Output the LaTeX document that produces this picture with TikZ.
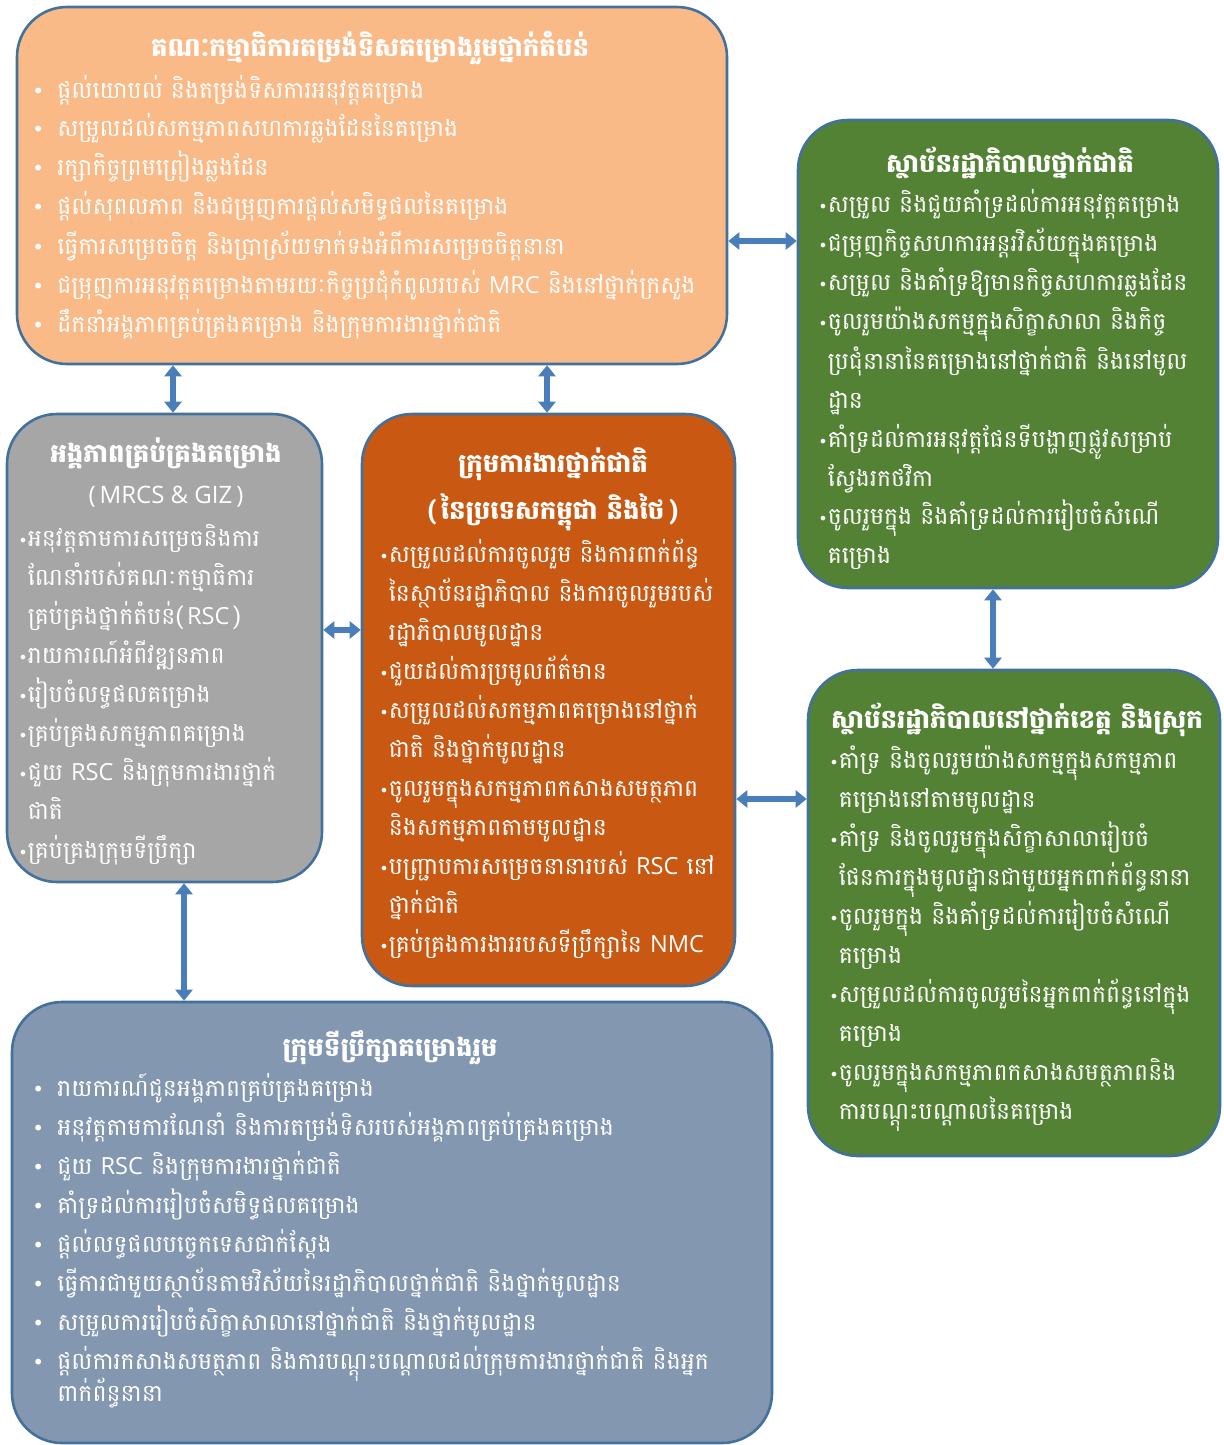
\documentclass[tikz,border=0pt]{standalone}
\usepackage{fontspec}
\setmainfont[Script=Khmer]{Battambang}
\newfontfamily\latinfont{Open Sans}
\newfontfamily\dotfont{DejaVu Sans}
\usetikzlibrary{arrows.meta,positioning,fit,calc}
\definecolor{rscorange}{RGB}{250,186,136}
\definecolor{nwgorange}{RGB}{200,88,18}
\definecolor{govgreen}{RGB}{84,130,53}
\definecolor{pmugrey}{RGB}{166,166,166}
\definecolor{teamblue}{RGB}{132,151,176}
\definecolor{edgeblue}{RGB}{65,113,156}
\definecolor{arrowblue}{RGB}{74,126,187}

\newcommand{\bul}{{\dotfont\fontsize{8}{8}\selectfont •}}
\newcommand{\bigbul}{{\dotfont\fontsize{10}{10}\selectfont •}}
\newcommand{\lat}[1]{{\latinfont #1}}
% one line of a list
\newcommand{\kline}[1]{\hbox{#1}}
\newcommand{\wideitem}[1]{\hbox{\hbox to 12.5pt{\bigbul\hss}#1}}
\newcommand{\wideline}[1]{\hbox{\hskip12.5pt #1}}
\newcommand{\tightitem}[1]{\hbox{\bul#1}}
\newcommand{\tightline}[1]{\hbox{\phantom{\bul}#1}}
\newcommand{\klines}[1]{\vtop{\baselineskip=19.5pt\lineskiplimit=-\maxdimen\lineskip=0pt #1}}

\tikzset{
  box/.style={draw=edgeblue, line width=1.3pt, rounded corners=25pt, inner sep=0pt},
  boxtitle/.style={anchor=base, text=white, font=\fontsize{13}{15}\selectfont\bfseries, inner sep=0pt},
  boxtext/.style={anchor=base west, text=white, font=\fontsize{11.8}{19.5}\selectfont, inner sep=0pt},
  biarrow/.style={draw=arrowblue, line width=2.6pt, {Triangle[width=8.5pt,length=5.5pt]}-{Triangle[width=8.5pt,length=5.5pt]}}
}

\begin{document}
\begin{tikzpicture}[x=0.5pt,y=-0.5pt]
  \useasboundingbox (0,0) rectangle (1223,1445);

  % boxes
  \node[box, fill=rscorange, fit={(17,7)(727,364)}] (rsc) {};
  \node[box, fill=govgreen, fit={(798,120)(1218,588)}] (natgov) {};
  \node[box, fill=pmugrey, fit={(7,414)(322,882)}] (pmu) {};
  \node[box, fill=nwgorange, fit={(362,414)(735,986)}] (nwg) {};
  \node[box, fill=govgreen, fit={(808,670)(1220,1156)}] (locgov) {};
  \node[box, fill=teamblue, fit={(12,1002)(772,1443)}] (team) {};

  % regional steering committee
  \node[boxtitle] (rsctitle) at (370,57) {គណៈកម្មាធិការតម្រង់ទិសគម្រោងរួមថ្នាក់តំបន់};
  \node[boxtext] (rsclist) at (32,98) {\klines{%
    \wideitem{ផ្តល់យោបល់ និងតម្រង់ទិសការអនុវត្តគម្រោង}
    \wideitem{សម្រួលដល់សកម្មភាពសហការឆ្លងដែននៃគម្រោង}
    \wideitem{រក្សាកិច្ចព្រមព្រៀងឆ្លងដែន}
    \wideitem{ផ្តល់សុពលភាព និងជម្រុញការផ្តល់សមិទ្ធផលនៃគម្រោង}
    \wideitem{ធ្វើការសម្រេចចិត្ត និងប្រាស្រ័យទាក់ទងអំពីការសម្រេចចិត្តនានា}
    \wideitem{ជម្រុញការអនុវត្តគម្រោងតាមរយៈកិច្ចប្រជុំកំពូលរបស់ \lat{MRC} និងនៅថ្នាក់ក្រសួង}
    \wideitem{ដឹកនាំអង្គភាពគ្រប់គ្រងគម្រោង និងក្រុមការងារថ្នាក់ជាតិ}}};

  % national government agencies
  \node[boxtitle] (natgovtitle) at (1010,172) {ស្ថាប័នរដ្ឋាភិបាលថ្នាក់ជាតិ};
  \node[boxtext] (natgovlist) at (818,213) {\klines{%
    \tightitem{សម្រួល និងជួយគាំទ្រដល់ការអនុវត្តគម្រោង}
    \tightitem{ជម្រុញកិច្ចសហការអន្តរវិស័យក្នុងគម្រោង}
    \tightitem{សម្រួល និងគាំទ្រឱ្យមានកិច្ចសហការឆ្លងដែន}
    \tightitem{ចូលរួមយ៉ាងសកម្មក្នុងសិក្ខាសាលា និងកិច្ច}
    \tightline{ប្រជុំនានានៃគម្រោងនៅថ្នាក់ជាតិ និងនៅមូល}
    \tightline{ដ្ឋាន}
    \tightitem{គាំទ្រដល់ការអនុវត្តផែនទីបង្ហាញផ្លូវសម្រាប់}
    \tightline{ស្វែងរកថវិកា}
    \tightitem{ចូលរួមក្នុង និងគាំទ្រដល់ការរៀបចំសំណើ}
    \tightline{គម្រោង}}};

  % project management unit
  \node[boxtitle] (pmutitle) at (166,462) {អង្គភាពគ្រប់គ្រងគម្រោង};
  \node[boxtitle, font=\fontsize{12}{14}\selectfont\latinfont] (pmusub) at (166,503) {(\,MRCS \& GIZ\,)};
  \node[boxtext] (pmulist) at (18,546) {\klines{%
    \tightitem{អនុវត្តតាមការសម្រេចនិងការ}
    \tightline{ណែនាំរបស់គណៈកម្មាធិការ}
    \tightline{គ្រប់គ្រងថ្នាក់តំបន់(\,\lat{RSC}\,)}
    \tightitem{រាយការណ៍អំពីវឌ្ឍនភាព}
    \tightitem{រៀបចំលទ្ធផលគម្រោង}
    \tightitem{គ្រប់គ្រងសកម្មភាពគម្រោង}
    \tightitem{ជួយ \lat{RSC} និងក្រុមការងារថ្នាក់}
    \tightline{ជាតិ}
    \tightitem{គ្រប់គ្រងក្រុមទីប្រឹក្សា}}};

  % national working groups
  \node[boxtitle] (nwgtitle) at (553,472) {ក្រុមការងារថ្នាក់ជាតិ};
  \node[boxtitle] (nwgsub) at (553,519) {(\,នៃប្រទេសកម្ពុជា និងថៃ\,)};
  \node[boxtext] (nwglist) at (379,562) {\klines{%
    \tightitem{សម្រួលដល់ការចូលរួម និងការពាក់ព័ន្ធ}
    \tightline{នៃស្ថាប័នរដ្ឋាភិបាល និងការចូលរួមរបស់}
    \tightline{រដ្ឋាភិបាលមូលដ្ឋាន}
    \tightitem{ជួយដល់ការប្រមូលព័ត៌មាន}
    \tightitem{សម្រួលដល់សកម្មភាពគម្រោងនៅថ្នាក់}
    \tightline{ជាតិ និងថ្នាក់មូលដ្ឋាន}
    \tightitem{ចូលរួមក្នុងសកម្មភាពកសាងសមត្ថភាព}
    \tightline{និងសកម្មភាពតាមមូលដ្ឋាន}
    \tightitem{បញ្ជ្រាបការសម្រេចនានារបស់ \lat{RSC} នៅ}
    \tightline{ថ្នាក់ជាតិ}
    \tightitem{គ្រប់គ្រងការងាររបសទីប្រឹក្សានៃ \lat{NMC}}}};

  % provincial and district agencies
  \node[boxtitle] (locgovtitle) at (1017,728) {ស្ថាប័នរដ្ឋាភិបាលនៅថ្នាក់ខេត្ត និងស្រុក};
  \node[boxtext] (locgovlist) at (829,768) {\klines{%
    \tightitem{គាំទ្រ និងចូលរួមយ៉ាងសកម្មក្នុងសកម្មភាព}
    \tightline{គម្រោងនៅតាមមូលដ្ឋាន}
    \tightitem{គាំទ្រ និងចូលរួមក្នុងសិក្ខាសាលារៀបចំ}
    \tightline{ផែនការក្នុងមូលដ្ឋានជាមួយអ្នកពាក់ព័ន្ធនានា}
    \tightitem{ចូលរួមក្នុង និងគាំទ្រដល់ការរៀបចំសំណើ}
    \tightline{គម្រោង}
    \tightitem{សម្រួលដល់ការចូលរួមនៃអ្នកពាក់ព័ន្ធនៅក្នុង}
    \tightline{គម្រោង}
    \tightitem{ចូលរួមក្នុងសកម្មភាពកសាងសមត្ថភាពនិង}
    \tightline{ការបណ្តុះបណ្តាលនៃគម្រោង}}};

  % joint consultant team
  \node[boxtitle] (teamtitle) at (390,1056) {ក្រុមទីប្រឹក្សាគម្រោងរួម};
  \node[boxtext] (teamlist) at (32,1096) {\klines{%
    \wideitem{រាយការណ៍ជូនអង្គភាពគ្រប់គ្រងគម្រោង}
    \wideitem{អនុវត្តតាមការណែនាំ និងការតម្រង់ទិសរបស់អង្គភាពគ្រប់គ្រងគម្រោង}
    \wideitem{ជួយ \lat{RSC} និងក្រុមការងារថ្នាក់ជាតិ}
    \wideitem{គាំទ្រដល់ការរៀបចំសមិទ្ធផលគម្រោង}
    \wideitem{ផ្តល់លទ្ធផលបច្ចេកទេសជាក់ស្តែង}
    \wideitem{ធ្វើការជាមួយស្ថាប័នតាមវិស័យនៃរដ្ឋាភិបាលថ្នាក់ជាតិ និងថ្នាក់មូលដ្ឋាន}
    \wideitem{សម្រួលការរៀបចំសិក្ខាសាលានៅថ្នាក់ជាតិ និងថ្នាក់មូលដ្ឋាន}
    \wideitem{ផ្តល់ការកសាងសមត្ថភាព និងការបណ្តុះបណ្តាលដល់ក្រុមការងារថ្នាក់ជាតិ និងអ្នក}
    \vskip-3.5pt
    \wideline{ពាក់ព័ន្ធនានា}}};

  % connectors
  \draw[biarrow] (rsc.south -| 173,0) -- (pmu.north -| 173,0);
  \draw[biarrow] (rsc.south -| 547,0) -- (nwg.north -| 547,0);
  \draw[biarrow] (rsc.east |- 0,241) -- (natgov.west |- 0,241);
  \draw[biarrow] (natgov.south -| 993,0) -- (locgov.north -| 993,0);
  \draw[biarrow] (pmu.east |- 0,630) -- (nwg.west |- 0,630);
  \draw[biarrow] (nwg.east |- 0,799) -- (locgov.west |- 0,799);
  \draw[biarrow] (pmu.south -| 184,0) -- (team.north -| 184,0);
\end{tikzpicture}
\end{document}
